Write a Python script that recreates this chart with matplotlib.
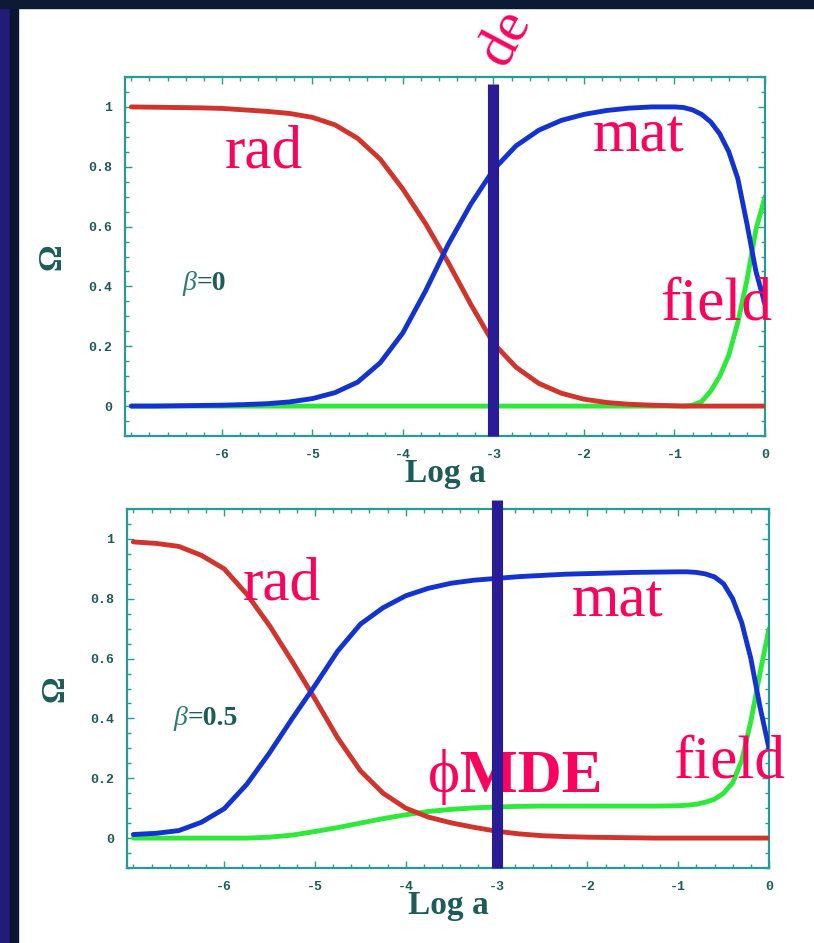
import matplotlib
matplotlib.use("Agg")
import matplotlib.pyplot as plt
from matplotlib.patches import Rectangle
from matplotlib.ticker import MultipleLocator

# Log a grid shared by all curves
log_a = [-7, -6.75, -6.5, -6.25, -6, -5.75, -5.5, -5.25, -5, -4.75, -4.5, -4.25,
         -4, -3.75, -3.5, -3.25, -3, -2.75, -2.5, -2.25, -2, -1.75, -1.5, -1.25,
         -1, -0.9, -0.8, -0.7, -0.6, -0.5, -0.4, -0.3, -0.2, -0.1, 0]

# beta = 0
rad_b0 = [1.0, 0.999, 0.998, 0.997, 0.995, 0.99, 0.985, 0.978, 0.965, 0.94, 0.895,
          0.825, 0.725, 0.61, 0.48, 0.34, 0.21, 0.13, 0.076, 0.043, 0.023, 0.012,
          0.006, 0.003, 0.001, 0.0, 0.0, 0.0, 0.0, 0.0, 0.0, 0.0, 0.0, 0.0, 0.0]
mat_b0 = [0.0, 0.0, 0.001, 0.002, 0.003, 0.005, 0.008, 0.014, 0.025, 0.045, 0.08,
          0.145, 0.245, 0.385, 0.54, 0.675, 0.79, 0.87, 0.922, 0.955, 0.975, 0.988,
          0.996, 1.0, 1.0, 0.998, 0.99, 0.975, 0.95, 0.91, 0.85, 0.76, 0.61, 0.45,
          0.34]
field_b0 = [0.0, 0.0, 0.0, 0.0, 0.0, 0.0, 0.0, 0.0, 0.0, 0.0, 0.0, 0.0, 0.0, 0.0,
            0.0, 0.0, 0.0, 0.0, 0.0, 0.0, 0.0, 0.0, 0.0, 0.0, 0.0, 0.0, 0.003,
            0.015, 0.05, 0.10, 0.17, 0.28, 0.42, 0.59, 0.70]

# beta = 0.5
rad_b05 = [0.99, 0.985, 0.975, 0.945, 0.9, 0.815, 0.71, 0.59, 0.465, 0.335, 0.225,
           0.15, 0.1, 0.07, 0.051, 0.036, 0.023, 0.014, 0.008, 0.005, 0.003, 0.002,
           0.001, 0.0, 0.0, 0.0, 0.0, 0.0, 0.0, 0.0, 0.0, 0.0, 0.0, 0.0, 0.0]
mat_b05 = [0.012, 0.016, 0.025, 0.053, 0.098, 0.18, 0.285, 0.4, 0.51, 0.625, 0.715,
           0.77, 0.81, 0.835, 0.852, 0.862, 0.868, 0.874, 0.878, 0.882, 0.884, 0.886,
           0.888, 0.889, 0.89, 0.89, 0.888, 0.883, 0.873, 0.85, 0.80, 0.72, 0.60,
           0.44, 0.30]
field_b05 = [0.0, 0.0, 0.0, 0.0, 0.0, 0.0, 0.003, 0.01, 0.022, 0.035, 0.05, 0.065,
             0.078, 0.089, 0.096, 0.101, 0.104, 0.106, 0.107, 0.107, 0.107, 0.107,
             0.107, 0.107, 0.108, 0.11, 0.113, 0.12, 0.13, 0.15, 0.185, 0.26, 0.39,
             0.55, 0.70]

x_ticks = [-6, -5, -4, -3, -2, -1, 0]
y_ticks = [0, 0.2, 0.4, 0.6, 0.8, 1]
y_tick_labels = ["0", "0.2", "0.4", "0.6", "0.8", "1"]

MAG = "#fa035f"
TEAL = "#2a9a96"
DARK = "#1d5c59"

fig = plt.figure(figsize=(8.14, 9.43), dpi=100, facecolor="white")

# dark frame strips (left and top)
fig.patches.append(Rectangle((0, 0), 10 / 814, 1, transform=fig.transFigure,
                             color="#221c78", zorder=10))
fig.patches.append(Rectangle((10 / 814, 0), 8 / 814, 1, transform=fig.transFigure,
                             color="#0b1632", zorder=10))
fig.patches.append(Rectangle((0, 1 - 8 / 943), 1, 8 / 943, transform=fig.transFigure,
                             color="#0d1a34", zorder=10))

ax1 = fig.add_axes([125 / 814, 1 - 436 / 943, 640 / 814, 359 / 943])
ax2 = fig.add_axes([127 / 814, 1 - 868 / 943, 642 / 814, 359 / 943])

panels = [
    (ax1, rad_b0, mat_b0, field_b0),
    (ax2, rad_b05, mat_b05, field_b05),
]

for ax, rad, mat, field in panels:
    ax.plot(log_a, field, color="#2ee83a", lw=3.5, solid_capstyle="round",
            solid_joinstyle="round", zorder=2)
    ax.plot(log_a, rad, color="#d0342c", lw=3.5, solid_capstyle="round",
            solid_joinstyle="round", zorder=3)
    ax.plot(log_a, mat, color="#1233d2", lw=3.5, solid_capstyle="round",
            solid_joinstyle="round", zorder=4)
    ax.set_xlim(-7.07, 0.0)
    ax.set_ylim(-0.1, 1.1)
    ax.set_xticks(x_ticks)
    ax.set_xticklabels([str(t) for t in x_ticks])
    ax.set_yticks(y_ticks)
    ax.set_yticklabels(y_tick_labels)
    ax.xaxis.set_minor_locator(MultipleLocator(0.2))
    ax.yaxis.set_minor_locator(MultipleLocator(0.05))
    ax.tick_params(which="both", direction="in", top=True, right=True,
                   color=TEAL, width=1.0)
    ax.tick_params(which="major", length=5, pad=9)
    ax.tick_params(which="minor", length=3)
    for lab in ax.get_xticklabels() + ax.get_yticklabels():
        lab.set_family("Liberation Mono")
        lab.set_fontweight("bold")
        lab.set_fontsize(9.5)
        lab.set_color(DARK)
    for sp in ax.spines.values():
        sp.set_color(TEAL)
        sp.set_linewidth(1.6)
    ax.set_xlabel("Log a", family="Liberation Serif", fontweight="bold",
                  fontsize=24, color=DARK)
    ax.xaxis.set_label_coords(0.5, -0.062)
    ax.set_ylabel("Ω", family="Liberation Serif", fontweight="bold",
                  fontsize=24, color=DARK)

ax1.yaxis.set_label_coords(-0.09, 0.5)
ax2.yaxis.set_label_coords(-0.088, 0.5)

# vertical marker at Log a = -3
ax1.axvline(-3, ymin=0.0, ymax=0.98, color="#2a1c96", lw=8, clip_on=False,
            solid_capstyle="butt", zorder=6)
ax2.axvline(-3, ymin=0.0, ymax=1.025, color="#2a1c96", lw=8, clip_on=False,
            solid_capstyle="butt", zorder=6)

text_kw = dict(family="Liberation Serif", fontsize=44, color=MAG, va="baseline",
               ha="left", zorder=5)

ax1.text(-5.97, 0.796, "rad", **text_kw)
ax1.text(-1.90, 0.85, "mat", **text_kw)
ax1.text(-1.16, 0.288, "field", **text_kw)

ax2.text(-5.80, 0.796, "rad", **text_kw)
ax2.text(-2.17, 0.739, "mat", **text_kw)
ax2.text(-1.06, 0.204, "field", **text_kw)
phi = ax2.text(-3.755, 0.154, "ϕ", **text_kw)
ax2.annotate("MDE", xy=(1, 0), xycoords=phi, va="bottom", ha="left",
             family="Liberation Serif", fontsize=44, fontweight="bold",
             color=MAG, zorder=5)

# beta labels
for ax, x0, y0, val in [(ax1, -6.43, 0.41, "=0"), (ax2, -6.56, 0.40, "=0.5")]:
    b = ax.text(x0, y0, "β", family="Liberation Serif", style="italic",
                fontsize=20, color="#2a7a76", va="center", ha="left")
    ax.annotate(val, xy=(1, 0), xycoords=b, va="bottom", ha="left",
                family="Liberation Serif", fontweight="bold", fontsize=20,
                color=DARK)

# rotated word fragment at the top, running into the frame
fig.text(504 / 814, 1 - 68 / 943, "de", family="Liberation Serif",
         fontsize=42, color=MAG, rotation=62, rotation_mode="anchor",
         ha="left", va="baseline", zorder=5)

fig.savefig("out.png", dpi=100, facecolor="white")
